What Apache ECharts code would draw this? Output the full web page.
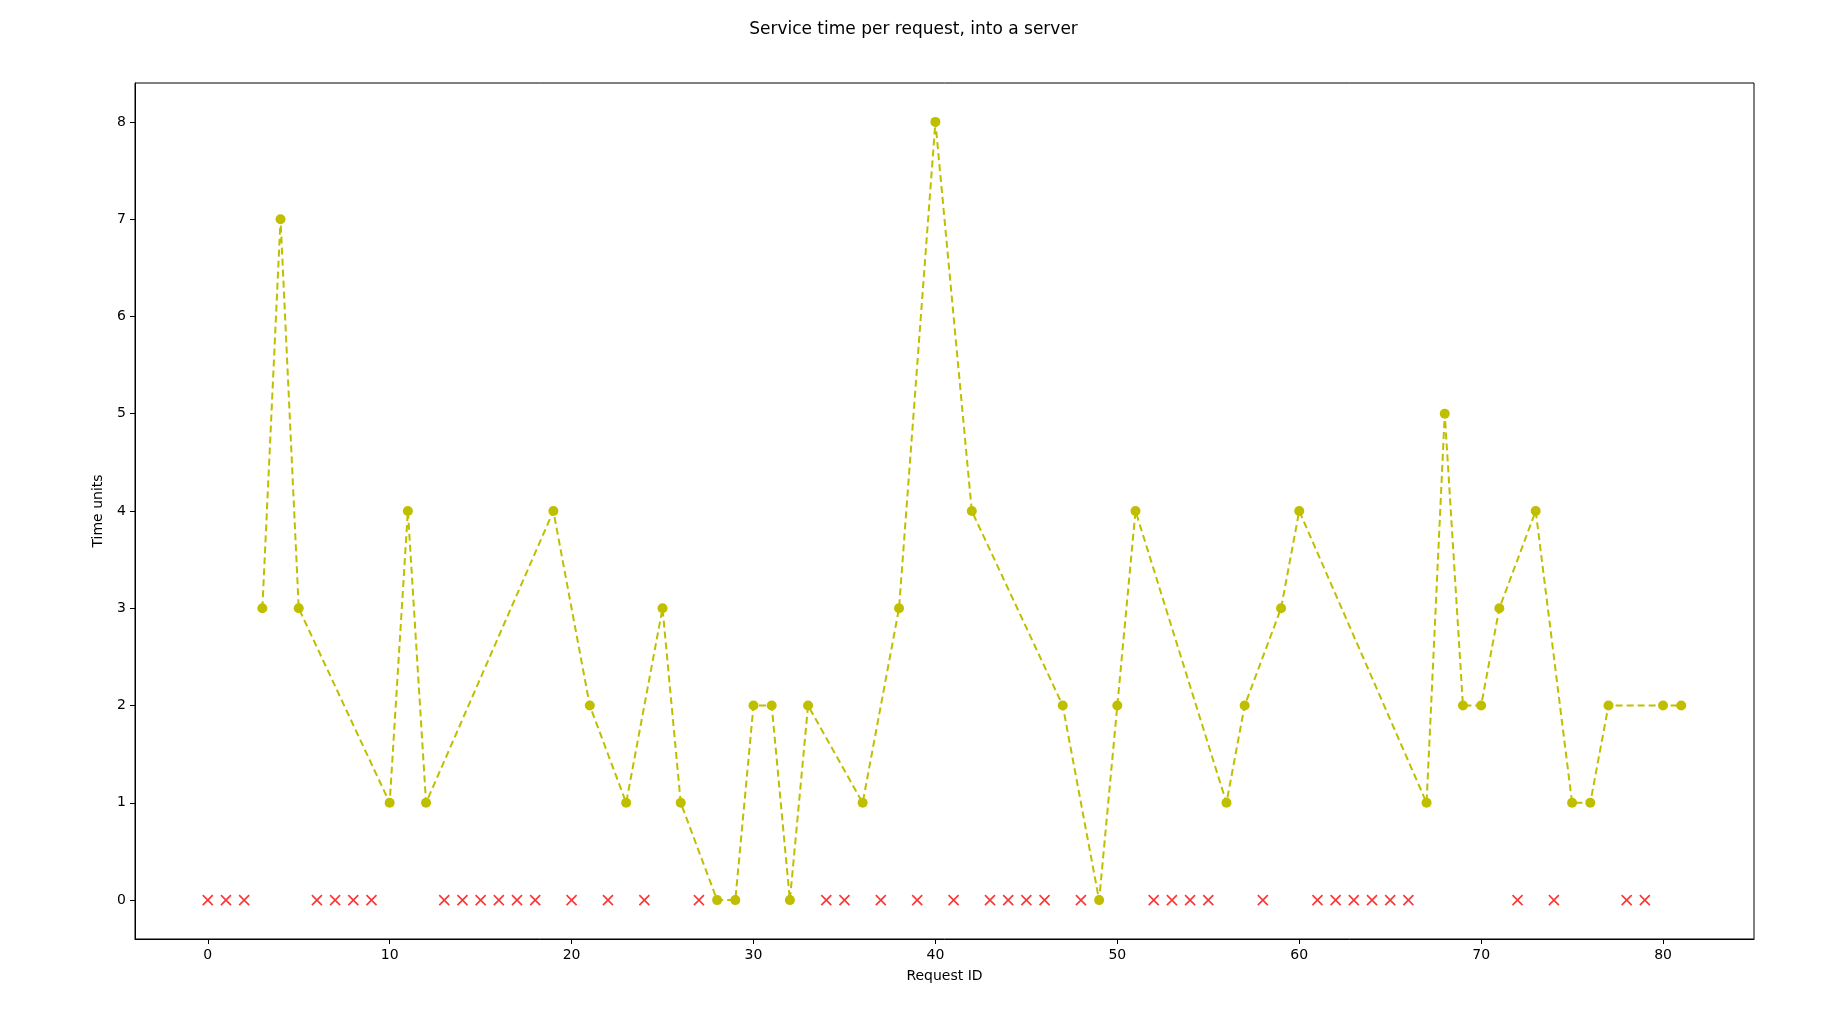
<!DOCTYPE html>
<html><head><meta charset="utf-8">
<script src="https://cdn.jsdelivr.net/npm/echarts@6/dist/echarts.min.js"></script>
<style>html,body{margin:0;padding:0;background:#fff}#c{width:1827px;height:1023px}</style>
</head><body><div id="c"></div>
<script>
const servedX = [3,4,5,10,11,12,19,21,23,25,26,28,29,30,31,32,33,36,38,40,42,47,49,50,51,56,57,59,60,67,68,69,70,71,73,75,76,77,80,81];
const servedY = [3,7,3,1,4,1,4,2,1,3,1,0,0,2,2,0,2,1,3,8,4,2,0,2,4,1,2,3,4,1,5,2,2,3,4,1,1,2,2,2];
const droppedX = [0,1,2,6,7,8,9,13,14,15,16,17,18,20,22,24,27,34,35,37,39,41,43,44,45,46,48,52,53,54,55,58,61,62,63,64,65,66,72,74,78,79];
const xTicks = [0,10,20,30,40,50,60,70,80];
const yTicks = [0,1,2,3,4,5,6,7,8];
const font = 'DejaVu Sans';
const G = {left:135,right:73,top:83,bottom:84};
const chart = echarts.init(document.getElementById('c'));
chart.setOption({
  animation:false,
  title:{text:'Service time per request, into a server',left:'center',top:16,textStyle:{fontFamily:font,fontSize:17,fontWeight:'normal',color:'#000'}},
  grid:G,
  xAxis:{type:'value',min:-4,max:85,name:'Request ID',nameLocation:'middle',nameGap:30,
    nameTextStyle:{fontFamily:font,fontSize:14,color:'#000'},
    axisLine:{onZero:false,lineStyle:{color:'#000'}},splitLine:{show:false},
    axisTick:{customValues:xTicks,length:5,lineStyle:{color:'#000'}},
    axisLabel:{customValues:xTicks,fontFamily:font,fontSize:14,color:'#000',margin:9}},
  yAxis:{type:'value',min:-0.4,max:8.4,name:'Time units',nameLocation:'middle',nameGap:30,
    nameTextStyle:{fontFamily:font,fontSize:14,color:'#000'},
    axisLine:{show:true,onZero:false,lineStyle:{color:'#000'}},splitLine:{show:false},
    axisTick:{show:true,customValues:yTicks,length:5,lineStyle:{color:'#000'}},
    axisLabel:{customValues:yTicks,fontFamily:font,fontSize:14,color:'#000',margin:9}},
  series:[
    {type:'line',data:servedX.map((x,i)=>[x,servedY[i]]),symbol:'circle',symbolSize:10,
     lineStyle:{color:'#bfbf00',type:[7,4],width:2},itemStyle:{color:'#bfbf00'}},
    {type:'scatter',data:droppedX.map(x=>[x,0]),symbol:'path://M0,0L10,10M10,0L0,10',symbolSize:10,
     itemStyle:{color:'none',borderColor:'#ff0000',borderWidth:1.6}}
  ],
  graphic:[{type:'rect',shape:{x:G.left,y:G.top,width:1827-G.left-G.right,height:1023-G.top-G.bottom},style:{fill:'none',stroke:'#000',lineWidth:1},silent:true}]
});
</script></body></html>
